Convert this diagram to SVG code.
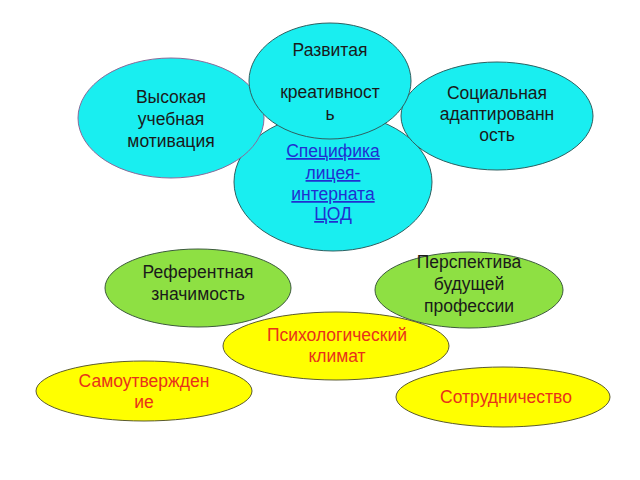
<svg xmlns="http://www.w3.org/2000/svg" width="640" height="480" viewBox="0 0 640 480">
<style>
.c{fill:#19eef0;stroke:#2f5f60;stroke-width:1}
.g{fill:#8ee043;stroke:#3c5a3c;stroke-width:1}
.y{fill:#ffff00;stroke:#5a5a30;stroke-width:1}
text{font-family:"Liberation Sans",Arial,sans-serif;font-size:17.5px;text-anchor:middle}
.d{fill:#1a1a1a}
.r{fill:#e8321a}
.l{fill:#2030d0;text-decoration:underline}
</style>
<rect width="640" height="480" fill="#ffffff"/>
<g id="connectors"/>
<g id="spec">
<ellipse class="c" cx="333" cy="182" rx="99" ry="69"/>
<text class="l" x="333" y="157">Специфика</text>
<text class="l" x="333" y="179">лицея-</text>
<text class="l" x="333" y="200">интерната</text>
<text class="l" x="333" y="220">ЦОД</text>
</g>
<g id="social">
<ellipse class="c" cx="497" cy="116" rx="96" ry="54"/>
<text class="d" x="497" y="99">Социальная</text>
<text class="d" x="497" y="120">адаптированн</text>
<text class="d" x="497" y="141">ость</text>
</g>
<g id="motivation">
<ellipse class="c" cx="171" cy="118" rx="93" ry="60" style="stroke:#8a6a9a"/>
<text class="d" x="171" y="103">Высокая</text>
<text class="d" x="171" y="125">учебная</text>
<text class="d" x="171" y="147">мотивация</text>
</g>
<g id="creative">
<ellipse class="c" cx="330" cy="81" rx="81" ry="58"/>
<text class="d" x="330" y="56">Развитая</text>
<text class="d" x="330" y="98">креативност</text>
<text class="d" x="330" y="120">ь</text>
</g>
<g id="referent">
<ellipse class="g" cx="198" cy="288" rx="93" ry="39"/>
<text class="d" x="198" y="278">Референтная</text>
<text class="d" x="198" y="300">значимость</text>
</g>
<g id="perspective">
<ellipse class="g" cx="469" cy="290" rx="94" ry="38"/>
<text class="d" x="469" y="268">Перспектива</text>
<text class="d" x="469" y="290">будущей</text>
<text class="d" x="469" y="312">профессии</text>
</g>
<g id="climate">
<ellipse class="y" cx="336" cy="346" rx="113" ry="34"/>
<text class="r" x="337" y="341">Психологический</text>
<text class="r" x="337" y="362">климат</text>
</g>
<g id="selfassert">
<ellipse class="y" cx="144" cy="391" rx="108" ry="30"/>
<text class="r" x="144" y="387">Самоутвержден</text>
<text class="r" x="144" y="408">ие</text>
</g>
<g id="cooperation">
<ellipse class="y" cx="503" cy="397" rx="107" ry="30"/>
<text class="r" x="506" y="403">Сотрудничество</text>
</g>
</svg>
